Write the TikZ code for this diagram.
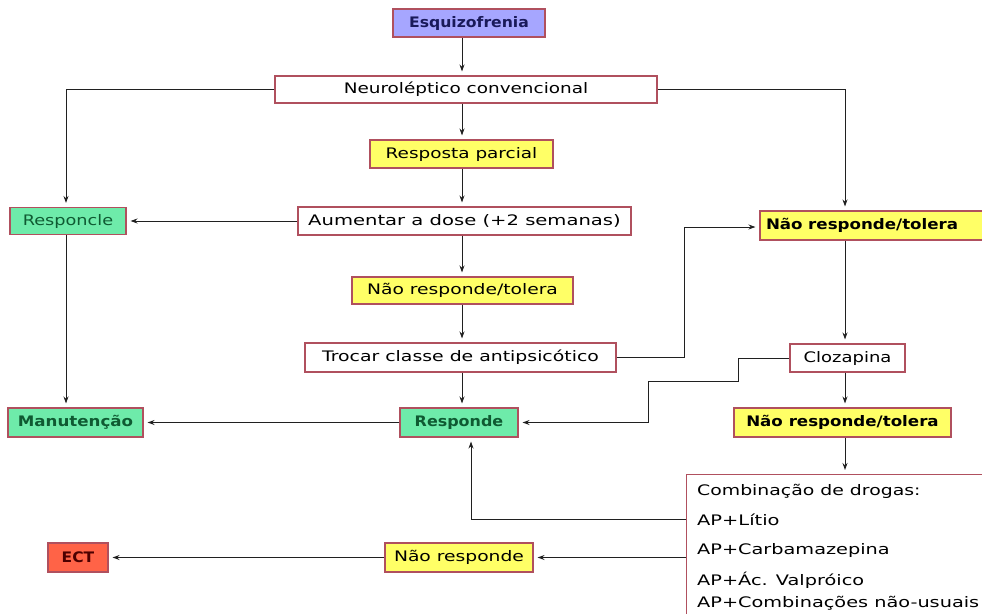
\documentclass[tikz,border=0pt]{standalone}
\usepackage{fontspec}
\setmainfont{DejaVu Sans}
\usetikzlibrary{arrows.meta}
\definecolor{bluefill}{HTML}{A6A6FF}
\definecolor{yelfill}{HTML}{FFFF66}
\definecolor{grnfill}{HTML}{6EEBAA}
\definecolor{ectfill}{HTML}{FF6347}
\definecolor{bordc}{HTML}{B0505E}
\definecolor{grntext}{HTML}{0F5A32}
\definecolor{navytext}{HTML}{1A1A5A}
\definecolor{linec}{HTML}{202020}
\newcommand{\sx}[2]{\scalebox{#1}[1]{#2}}
\tikzset{
  box/.style={draw=bordc, line width=1.1pt, rectangle, inner sep=0pt, font=\fontsize{14.5}{17}\selectfont, text=black},
  wbox/.style={box, fill=white},
  ybox/.style={box, fill=yelfill},
  gbox/.style={box, fill=grnfill, text=grntext},
  arr/.style={draw=linec, line width=1pt, -{Stealth[length=7pt,width=5pt]}, shorten >=4pt},
  combtext/.style={anchor=west, inner sep=0pt, font=\fontsize{14.5}{17}\selectfont}
}
\begin{document}
\begin{tikzpicture}[x=1pt,y=-1pt]
\useasboundingbox (0,0) rectangle (982,613);
\clip (0,0) rectangle (982,613);
\fill[white] (0,0) rectangle (982,613);
\coordinate (col) at (462,0);
\coordinate (colR) at (845,0);
\coordinate (colL) at (66,0);

\node[box, fill=bluefill, text=navytext, font=\bfseries\fontsize{14.5}{17}\selectfont, minimum width=152pt, minimum height=28pt] (esq) at (469,23) {\sx{1.08}{Esquizofrenia}};
\node[wbox, minimum width=382pt, minimum height=27pt] (neuro) at (466,89.5) {\sx{1.27}{Neuroléptico convencional}};
\node[ybox, minimum width=183pt, minimum height=28pt] (resp) at (461.5,154) {\sx{1.27}{Resposta parcial}};
\node[wbox, minimum width=333pt, minimum height=28pt] (aum) at (464.5,221) {\sx{1.35}{Aumentar a dose (+2 semanas)}};
\node[gbox, minimum width=116pt, minimum height=27pt] (responcle) at (68,221) {\sx{1.22}{Responcle}};
\node[ybox, minimum width=221pt, minimum height=27pt] (nrt1) at (462.5,290.5) {\sx{1.29}{Não responde/tolera}};
\node[wbox, minimum width=311pt, minimum height=29pt] (troc) at (460.5,357.5) {\sx{1.3}{Trocar classe de antipsicótico}};
\node[ybox, font=\bfseries\fontsize{14.5}{17}\selectfont, minimum width=230pt, minimum height=29pt, text width=218pt, align=left] (nrt2) at (875,225.5) {\sx{1.15}{Não responde/tolera}};
\node[wbox, minimum width=115pt, minimum height=28pt] (cloz) at (847.5,358) {\sx{1.24}{Clozapina}};
\node[ybox, font=\bfseries\fontsize{14.5}{17}\selectfont, minimum width=217pt, minimum height=29pt] (nrt3) at (842.5,422.5) {\sx{1.15}{Não responde/tolera}};
\node[gbox, font=\bfseries\fontsize{14.5}{17}\selectfont, minimum width=118pt, minimum height=29pt] (respm) at (459,422.5) {\sx{1.1}{Responde}};
\node[gbox, font=\bfseries\fontsize{14.5}{17}\selectfont, minimum width=135pt, minimum height=29pt] (manut) at (75.5,422.5) {\sx{1.15}{Manutenção}};
\node[ybox, minimum width=148pt, minimum height=29pt] (nresp) at (459,557.5) {\sx{1.29}{Não responde}};
\node[box, fill=ectfill, text=black!70!red, font=\bfseries\fontsize{14.5}{17}\selectfont, minimum width=60pt, minimum height=29pt] (ect) at (78,557.5) {\sx{1.07}{ECT}};
\node[wbox, anchor=north west, minimum width=320pt, minimum height=170pt] (comb) at (686,474) {};
\node[combtext] (c1) at (697,491) {\sx{1.3}{Combinação de drogas:}};
\node[combtext] (c2) at (697,520) {\sx{1.34}{AP+Lítio}};
\node[combtext] (c3) at (697,550) {\sx{1.33}{AP+Carbamazepina}};
\node[combtext] (c4) at (697,580) {\sx{1.33}{AP+Ác. Valpróico}};
\node[combtext] (c5) at (697,603) {\sx{1.33}{AP+Combinações não-usuais}};

% connectors
\draw[arr] (esq.south -| col) -- (neuro.north -| col);
\draw[arr] (neuro.south -| col) -- (resp.north -| col);
\draw[arr] (resp.south -| col) -- (aum.north -| col);
\draw[arr] (aum.south -| col) -- (nrt1.north -| col);
\draw[arr] (nrt1.south -| col) -- (troc.north -| col);
\draw[arr] (troc.south -| col) -- (respm.north -| col);
\draw[arr] (neuro.west) -| (responcle.north -| colL);
\draw[arr] (neuro.east) -| (nrt2.north -| colR);
\draw[arr] (aum.west) -- (responcle.east);
\draw[arr] (responcle.south -| colL) -- (manut.north -| colL);
\draw[arr] (respm.west) -- (manut.east);
\draw[arr] (troc.east) -| (684,227) -- (nrt2.west |- 0,227);
\draw[arr] (nrt2.south -| colR) -- (cloz.north -| colR);
\draw[arr] (cloz.west) -| (738,381) -| (648,422.5) -- (respm.east);
\draw[arr] (cloz.south -| colR) -- (nrt3.north -| colR);
\draw[arr] (nrt3.south -| colR) -- (comb.north -| colR);
\draw[arr] (comb.west |- 0,519) -| (respm.south -| 471,0);
\draw[arr] (comb.west |- nresp) -- (nresp.east);
\draw[arr] (nresp.west) -- (ect.east);
\end{tikzpicture}
\end{document}
